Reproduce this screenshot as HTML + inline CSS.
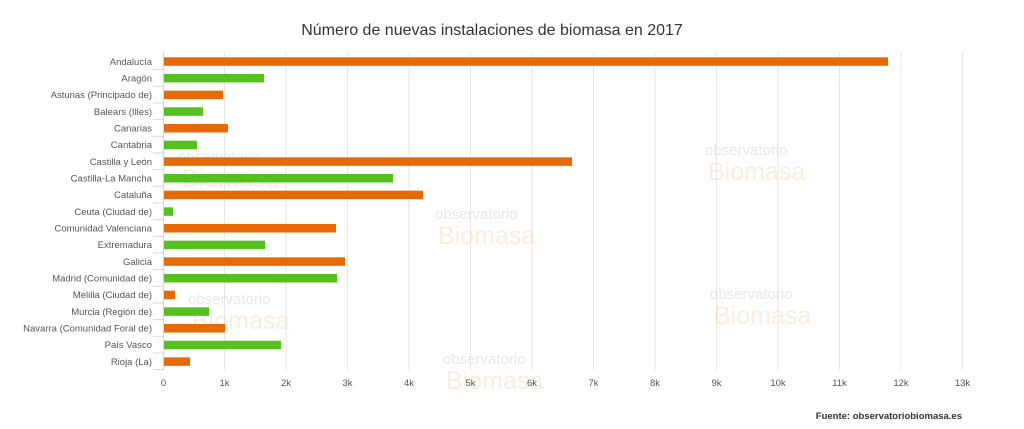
<!DOCTYPE html>
<html><head><meta charset="utf-8"><style>
body{margin:0;background:#fff;}
svg{display:block;font-family:"Liberation Sans",sans-serif;}
</style></head><body>
<svg width="1024" height="429" viewBox="0 0 1024 429">
<rect width="1024" height="429" fill="#fff"/>
<text x="492" y="35" text-anchor="middle" font-size="16" fill="#333">Número de nuevas instalaciones de biomasa en 2017</text>
<g stroke="#e6e6e6" stroke-width="1">
<line x1="224.5" y1="52" x2="224.5" y2="370"/><line x1="286" y1="52" x2="286" y2="370"/>
<line x1="347.5" y1="52" x2="347.5" y2="370"/><line x1="409" y1="52" x2="409" y2="370"/>
<line x1="470.5" y1="52" x2="470.5" y2="370"/><line x1="532" y1="52" x2="532" y2="370"/>
<line x1="593.5" y1="52" x2="593.5" y2="370"/><line x1="655" y1="52" x2="655" y2="370"/>
<line x1="716.5" y1="52" x2="716.5" y2="370"/><line x1="778" y1="52" x2="778" y2="370"/>
<line x1="839.5" y1="52" x2="839.5" y2="370"/><line x1="901" y1="52" x2="901" y2="370"/>
<line x1="962.5" y1="52" x2="962.5" y2="370"/>
</g>
<line x1="163.5" y1="52" x2="163.5" y2="370" stroke="#ccd6eb"/>
<g fill="#f5c9a0" opacity="0.35" font-size="15">
<text x="178" y="162" fill="#bbb">observatorio</text><text x="182" y="187" font-size="25">Biomasa</text>
<text x="705" y="155" fill="#bbb">observatorio</text><text x="708" y="180" font-size="25">Biomasa</text>
<text x="435" y="219" fill="#bbb">observatorio</text><text x="438" y="244" font-size="25">Biomasa</text>
<text x="188" y="304" fill="#bbb">observatorio</text><text x="192" y="329" font-size="25">Biomasa</text>
<text x="710" y="299" fill="#bbb">observatorio</text><text x="714" y="324" font-size="25">Biomasa</text>
<text x="443" y="364" fill="#bbb">observatorio</text><text x="446" y="389" font-size="25">Biomasa</text>
</g>
<g font-size="9.5" fill="#555" text-anchor="end" id="labels"></g>
<g id="bars"></g>
<g font-size="9.5" fill="#555" text-anchor="middle">
<text x="163.5" y="386">0</text><text x="224.5" y="386">1k</text><text x="286" y="386">2k</text><text x="347.5" y="386">3k</text><text x="409" y="386">4k</text><text x="470.5" y="386">5k</text><text x="532" y="386">6k</text><text x="593.5" y="386">7k</text><text x="655" y="386">8k</text><text x="716.5" y="386">9k</text><text x="778" y="386">10k</text><text x="839.5" y="386">11k</text><text x="901" y="386">12k</text><text x="962.5" y="386">13k</text>
</g>
<text x="962" y="419" text-anchor="end" font-size="9.5" font-weight="bold" fill="#333">Fuente: observatoriobiomasa.es</text>
<script>
var d=[["Andalucía",888],["Aragón",264],["Asturias (Principado de)",223],["Balears (Illes)",203],["Canarias",228],["Cantabria",197],["Castilla y León",572],["Castilla-La Mancha",393],["Cataluña",423],["Ceuta (Ciudad de)",173],["Comunidad Valenciana",336],["Extremadura",265],["Galicia",345],["Madrid (Comunidad de)",337],["Melilla (Ciudad de)",175],["Murcia (Región de)",209],["Navarra (Comunidad Foral de)",225],["País Vasco",281],["Rioja (La)",190]];
var ns="http://www.w3.org/2000/svg",L=document.getElementById("labels"),B=document.getElementById("bars");
d.forEach(function(r,i){var y=61.3+i*16.67;
var t=document.createElementNS(ns,"text");t.setAttribute("x",152);t.setAttribute("y",y+3.5);t.textContent=r[0];L.appendChild(t);
var tk=document.createElementNS(ns,"line");tk.setAttribute("x1",153);tk.setAttribute("x2",163);tk.setAttribute("y1",y+8.3);tk.setAttribute("y2",y+8.3);tk.setAttribute("stroke","#ccd6eb");B.appendChild(tk);
var b=document.createElementNS(ns,"rect");b.setAttribute("x",164);b.setAttribute("y",y-4);b.setAttribute("width",r[1]-164);b.setAttribute("height",8.5);b.setAttribute("fill",i%2?"#55c11e":"#e66a07");B.appendChild(b);});
</script>
</svg>
</body></html>
